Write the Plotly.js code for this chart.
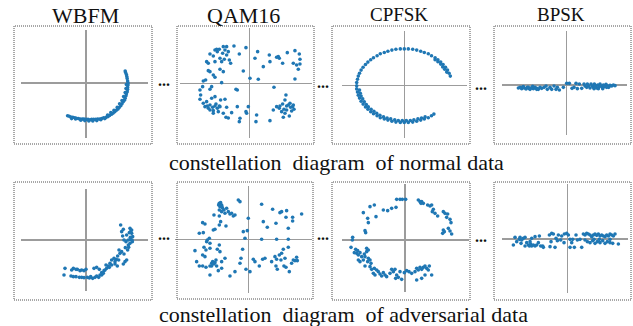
<!DOCTYPE html>
<html><head><meta charset="utf-8">
<script src="https://cdn.plot.ly/plotly-3.0.1.min.js"></script>
<style>html,body{margin:0;padding:0;background:#fff}</style>
</head><body><div id="chart" style="width:633px;height:326px"></div>
<script>
const panelTitles = ['WBFM', 'QAM16', 'CPFSK', 'BPSK'];
const rowCaptions = ['constellation  diagram  of normal data', 'constellation  diagram  of adversarial data'];

const wbfmNormal = [[-0.46,-0.82],[-0.42,-0.83],[-0.38,-0.85],[-0.33,-0.86],[-0.28,-0.87],[-0.24,-0.88],[-0.19,-0.89],[-0.14,-0.90],[-0.09,-0.90],[-0.05,-0.90],[0.00,-0.91],[0.05,-0.91],[0.10,-0.92],[0.14,-0.91],[0.19,-0.91],[0.24,-0.91],[0.29,-0.90],[0.34,-0.90],[0.39,-0.89],[0.44,-0.87],[0.50,-0.86],[0.55,-0.84],[0.59,-0.81],[0.64,-0.78],[0.68,-0.75],[0.72,-0.72],[0.76,-0.68],[0.80,-0.65],[0.83,-0.61],[0.87,-0.57],[0.90,-0.52],[0.93,-0.47],[0.96,-0.43],[0.98,-0.38],[1.00,-0.32],[1.01,-0.27],[1.03,-0.22],[1.04,-0.16],[1.04,-0.11],[1.05,-0.05],[1.05,0.00],[1.04,0.05],[1.03,0.11],[1.02,0.16],[1.01,0.21],[0.99,0.26],[0.98,0.30],
[-0.36,-0.89],[-0.26,-0.90],[-0.13,-0.93],[-0.03,-0.94],[0.07,-0.95],[0.17,-0.95],[0.27,-0.94],[0.37,-0.92],[0.47,-0.89],[0.54,-0.80],[0.62,-0.74],[0.70,-0.68],[0.78,-0.61],[0.84,-0.52],[0.90,-0.44],[0.94,-0.34],[0.98,-0.24],[1.00,-0.14],[1.01,-0.04]];

const qam16Normal = [[-1.18,0.88],[-1.03,1.00],[-0.96,0.95],[-0.90,1.02],[-0.78,1.10],[-0.73,1.00],[-0.63,0.95],[-0.68,0.85],[-0.80,0.90],[-0.88,0.75],[-1.03,0.65],[-0.83,0.65],[-0.75,0.72],[-0.60,0.70],[-0.46,1.12],[-0.30,0.88],[-0.10,1.07],[-0.56,0.60],[-0.88,0.42],[-1.23,0.38],[-1.28,0.65],[-1.18,0.35],[-1.03,0.18],[-1.38,0.07],[-1.31,0.10],[-1.13,-0.10],[-1.18,-0.18],[-1.48,-0.20],[-1.46,-0.35],[-1.48,-0.48],[-1.38,-0.60],[-1.33,-0.70],[-1.26,-0.68],[-1.18,-0.65],[-1.10,-0.72],[-1.03,-0.68],[-0.96,-0.75],[-0.90,-0.68],[-1.18,-0.80],[-1.08,-0.82],[-1.13,-0.45],[-1.03,-0.40],[-0.86,-0.50],[-0.73,-0.48],[-0.93,-0.85],[-1.08,-0.90],[-0.88,-0.70],[-0.68,-0.72],[-0.78,-0.90],[-0.70,-1.02],[-0.63,-1.04],[-0.53,-0.88],[-0.36,-0.70],[-0.28,-1.05],[-0.30,-1.15],[-0.10,-0.85],[-0.03,-0.70],[-0.83,0.02],[-1.08,0.25],[-0.78,0.35],[-0.36,-0.20],[-0.18,0.37],[0.02,0.15],[0.27,0.12],[0.25,0.95],[0.17,0.75],[0.42,0.50],[0.60,0.85],[0.62,0.65],[0.82,0.78],[0.90,0.75],[1.00,0.60],[1.14,0.92],[1.32,0.60],[1.37,0.98],[1.50,0.88],[1.52,0.72],[1.47,0.42],[1.52,0.58],[1.37,0.13],[0.74,-0.12],[1.10,-0.35],[1.07,-0.50],[1.00,-0.62],[0.92,-0.68],[0.90,-0.75],[0.97,-0.85],[1.07,-0.90],[1.02,-1.02],[1.12,-0.80],[1.22,-0.60],[1.30,-0.70],[1.34,-0.78],[1.27,-0.83],[1.20,-0.98],[0.62,-1.12],[0.72,-0.80],[0.82,-0.70],[0.22,-0.95],[0.20,-1.15],[-0.08,-0.90],[-0.40,-0.18],[-1.40,-0.10],[1.17,-0.65],[1.24,-0.72],[1.12,-0.68],[1.04,-0.78],[1.32,-0.65],[-1.23,-0.75],[-1.00,-0.62],[-1.28,-0.55],[-0.98,1.02],[-0.68,1.10],[-1.08,0.82],[-1.23,0.60],[0.87,0.80],[1.42,0.55]];

const cpfskNormal = [[1.15,0.24],[1.12,0.31],[1.08,0.39],[1.03,0.46],[0.97,0.53],[0.91,0.59],[0.84,0.65],[0.77,0.70],[0.68,0.75],[0.60,0.80],[0.50,0.83],[0.41,0.86],[0.31,0.89],[0.21,0.91],[0.10,0.92],[0.00,0.92],[-0.10,0.92],[-0.21,0.91],[-0.31,0.89],[-0.41,0.86],[-0.50,0.83],[-0.60,0.80],[-0.68,0.75],[-0.77,0.70],[-0.84,0.65],[-0.91,0.59],[-0.97,0.53],[-1.03,0.46],[-1.08,0.39],[-1.12,0.31],[-1.15,0.24],[-1.17,0.16],[-1.19,0.08],[-1.19,0.00],[-1.19,-0.08],[-1.17,-0.16],[-1.15,-0.24],[-1.12,-0.31],[-1.08,-0.39],[-1.03,-0.46],[-0.97,-0.53],[-0.91,-0.59],[-0.84,-0.65],[-0.77,-0.70],[-0.68,-0.75],[-0.60,-0.80],[-0.50,-0.83],[-0.41,-0.86],[-0.31,-0.89],[-0.21,-0.91],[-0.10,-0.92],[0.00,-0.92],[0.10,-0.92],[0.21,-0.91],[0.31,-0.89],[0.41,-0.86],[0.50,-0.83],[0.60,-0.80],[0.68,-0.75],[0.74,-0.71],
[-1.12,-0.11],[-1.10,-0.19],[-1.08,-0.26],[-1.04,-0.33],[-1.00,-0.40],[-0.95,-0.47],[-0.90,-0.53],[-0.83,-0.59],[-0.76,-0.64],[-0.69,-0.69],[-0.61,-0.74],[-0.52,-0.78],[-0.43,-0.81],[-0.34,-0.83],[-0.24,-0.85],[-0.15,-0.87],[-0.05,-0.87],[0.05,-0.87],[0.15,-0.87],[0.24,-0.85],[0.34,-0.83],[0.43,-0.81],[0.52,-0.78],
[1.06,0.34],[1.01,0.41],[0.96,0.47],[0.91,0.54],[0.84,0.60],[0.77,0.65]];

const bpskNormal = [[-1.45,-0.09],[-1.40,-0.07],[-1.35,-0.11],[-1.32,-0.06],[-1.27,-0.09],[-1.22,-0.12],[-1.18,-0.07],[-1.14,-0.10],[-1.10,-0.13],[-1.05,-0.08],[-1.00,-0.11],[-0.95,-0.07],[-0.90,-0.10],[-0.85,-0.13],[-0.80,-0.07],[-0.75,-0.10],[-0.68,-0.07],[-0.62,-0.03],[-0.58,-0.13],[-0.50,-0.07],[-0.45,-0.13],[-0.38,-0.03],[-0.32,-0.13],[-0.28,-0.07],[-0.22,-0.15],[-0.10,-0.07],[0.00,0.05],[0.08,0.05],[0.16,-0.10],[0.22,-0.07],[0.28,0.05],[0.32,-0.11],[0.38,0.03],[0.45,-0.10],[0.52,0.03],[0.55,-0.03],[0.60,-0.07],[0.62,0.03],[0.66,-0.03],[0.70,-0.09],[0.73,0.03],[0.77,-0.03],[0.80,-0.07],[0.83,0.03],[0.87,-0.03],[0.90,-0.09],[0.93,0.00],[0.97,-0.05],[1.00,0.03],[1.03,-0.03],[1.07,-0.07],[1.10,0.00],[1.14,-0.05],[1.18,0.02],[1.22,-0.03],[1.26,-0.07],[1.30,-0.01],[1.35,-0.03],[1.40,0.00],[1.45,-0.02],[-1.30,-0.05],[-1.15,-0.07],[-1.02,-0.04],[-0.90,-0.13],[0.82,-0.11],[0.95,-0.11],[1.08,-0.11],[1.20,-0.07]];

const wbfmAdv = [[1.04,0.45],[1.32,0.35],[1.35,0.28],[1.37,0.20],[1.30,0.22],[1.40,0.10],[1.34,0.02],[1.39,-0.05],[1.32,-0.10],[1.27,-0.15],[1.20,-0.05],[1.14,0.00],[1.10,0.12],[1.07,0.25],[1.12,0.32],[1.22,0.15],[1.25,-0.30],[1.18,-0.23],[1.28,-0.22],[0.99,-0.30],[1.02,-0.40],[0.95,-0.48],[0.91,-0.58],[0.87,-0.65],[0.84,-0.55],[0.77,-0.60],[0.72,-0.70],[0.67,-0.78],[0.62,-0.85],[0.70,-0.82],[0.57,-0.90],[0.60,-0.75],[0.54,-0.92],[0.47,-0.98],[0.42,-1.05],[0.38,-1.12],[0.32,-1.08],[0.27,-1.12],[0.20,-1.15],[0.14,-1.10],[0.10,-1.14],[0.04,-1.12],[0.00,-0.88],[-0.06,-0.92],[-0.13,-0.90],[-0.18,-0.92],[-0.26,-0.88],[-0.30,-0.88],[-0.38,-0.85],[-0.43,-0.90],[-0.63,-0.85],[-0.66,-1.05],[-0.45,-1.08],[-0.38,-1.10],[-0.30,-1.10],[-0.20,-1.12],[-0.13,-1.12],[-0.06,-1.13],[0.24,-0.85],[0.32,-0.82],[0.40,-0.88],[0.47,-1.05],[0.52,-1.00],[0.77,-0.75],[0.87,-0.72],[0.94,-0.78],[1.12,-0.72],[1.17,-0.65],[1.22,-0.60],[0.98,-0.60],[1.07,-0.35],[1.14,-0.42],[1.37,0.30],[1.38,0.00],[1.33,0.08],[1.27,0.00]];

const qam16Adv = [[-0.87,1.08],[-0.83,1.10],[-0.80,1.03],[-0.85,0.98],[-0.77,0.93],[-0.73,0.88],[-0.87,0.88],[-0.65,0.93],[-0.60,0.83],[-0.55,0.76],[-0.50,0.78],[-0.45,0.70],[-0.40,0.73],[-0.70,0.78],[-0.80,0.83],[-1.03,0.73],[-0.87,0.70],[-0.83,0.53],[-0.87,0.43],[-0.67,0.40],[-1.05,0.28],[-1.00,0.30],[-1.37,0.50],[-1.30,0.46],[-1.47,0.18],[-1.35,0.20],[-1.23,-0.02],[-1.17,0.03],[-1.15,-0.12],[-1.25,-0.07],[-0.30,1.18],[-0.25,1.13],[0.00,0.63],[-0.03,0.26],[-0.10,0.03],[-0.17,-0.30],[-1.60,-0.34],[-1.33,-0.24],[-1.27,-0.32],[-1.15,-0.27],[-0.93,-0.30],[-0.85,-0.37],[-0.87,-0.17],[-1.37,-0.47],[-1.30,-0.52],[-1.55,-0.67],[-1.47,-0.80],[-1.37,-0.80],[-1.27,-0.84],[-1.15,-0.80],[-1.10,-0.72],[-1.07,-0.67],[-1.03,-0.74],[-1.00,-0.70],[-0.95,-0.80],[-0.80,-0.87],[-0.90,-0.94],[-1.15,-1.07],[-0.80,-0.67],[-0.70,-0.57],[-0.55,-1.10],[-0.40,-0.97],[-0.25,-0.72],[-0.22,-0.57],[-0.07,-0.90],[0.05,-0.97],[0.15,-0.60],[0.20,-0.67],[0.33,-0.80],[0.43,-0.60],[0.50,-0.57],[0.70,-0.67],[0.80,-0.52],[0.85,-0.60],[0.93,-0.47],[1.00,-0.42],[1.05,-0.30],[1.20,-0.24],[0.83,-0.80],[0.87,-0.90],[1.07,-0.80],[1.13,-0.84],[1.23,-0.97],[1.30,-0.72],[1.35,-0.62],[1.40,-0.64],[1.47,-0.64],[1.45,-0.54],[0.40,1.05],[0.73,0.90],[0.95,0.80],[1.00,0.83],[1.15,0.86],[1.13,0.66],[1.33,0.66],[1.33,0.55],[1.60,0.76],[0.45,0.53],[0.57,0.36],[0.83,0.48],[1.20,0.33],[0.40,0.00],[0.85,0.00],[1.20,0.00],[1.10,-0.57],[0.98,-0.62],[-0.15,0.23],[-1.05,-0.72],[-0.97,-0.62],[-1.10,-0.80],[-0.79,0.98],[-0.89,1.03]];

const cpfskAdv = [[-1.25,0.82],[-1.05,1.00],[-0.92,1.05],[-1.12,0.65],[-1.10,0.52],[-1.20,0.28],[-1.18,0.22],[-0.87,0.70],[-0.65,0.90],[-0.52,0.88],[-0.40,0.95],[-0.27,0.98],[-0.25,1.22],[-0.15,1.22],[-0.08,1.22],[0.02,1.22],[0.40,1.20],[0.45,1.15],[0.50,1.15],[0.55,1.10],[0.48,1.10],[0.68,1.05],[0.75,1.02],[0.80,1.05],[0.85,0.92],[0.82,0.85],[0.90,0.80],[0.98,0.72],[1.15,0.85],[1.20,0.80],[1.28,0.78],[1.25,0.68],[1.35,0.62],[1.38,0.52],[1.30,0.35],[1.35,0.27],[1.40,0.18],[1.15,0.30],[1.18,0.25],[1.13,0.20],[-1.57,0.08],[-1.58,0.00],[-1.62,-0.22],[-1.48,-0.28],[-1.42,-0.32],[-1.45,-0.40],[-1.40,-0.45],[-1.35,-0.38],[-1.30,-0.50],[-1.22,-0.42],[-1.15,-0.35],[-1.15,-0.25],[-1.20,-0.50],[-1.10,-0.55],[-1.05,-0.60],[-1.12,-0.65],[-1.35,-0.65],[-1.20,-0.78],[-1.05,-0.80],[-1.00,-0.88],[-0.92,-0.85],[-0.85,-0.90],[-0.95,-1.00],[-0.90,-1.05],[-0.80,-0.95],[-0.75,-1.02],[-0.70,-1.08],[-0.65,-0.98],[-0.60,-1.05],[-0.55,-1.10],[-0.45,-1.00],[-0.40,-0.88],[-0.35,-0.95],[-0.30,-0.88],[-0.25,-1.05],[-0.28,-1.15],[-0.20,-1.12],[-0.10,-1.18],[-0.15,-0.95],[-0.02,-0.98],[0.05,-0.92],[0.12,-0.95],[0.20,-1.00],[0.30,-0.95],[0.35,-0.85],[0.40,-0.90],[0.45,-0.82],[0.50,-0.88],[0.55,-0.82],[0.60,-0.78],[0.65,-0.85],[0.70,-0.90],[0.73,-0.78],[0.80,-1.05],[0.60,-1.05],[0.50,-1.15],[0.35,-1.20],[-1.40,-0.60],[-1.25,-0.60],[-1.52,-0.38],[-1.10,-0.30],[-1.02,-0.70]];

const bpskAdv = [[-1.58,0.05],[-1.53,-0.08],[-1.45,-0.01],[-1.43,0.05],[-1.38,-0.03],[-1.33,0.02],[-1.28,0.05],[-1.23,-0.11],[-1.18,-0.18],[-1.15,-0.21],[-1.11,-0.15],[-1.08,-0.21],[-1.03,-0.18],[-0.98,-0.21],[-0.93,-0.18],[-0.88,-0.11],[-0.85,0.09],[-0.81,-0.21],[-0.75,-0.21],[-0.73,-0.25],[-1.28,-0.21],[-1.63,-0.18],[-1.40,-0.13],[-1.13,-0.08],[-1.08,0.02],[-0.98,0.07],[-0.55,0.12],[-0.48,0.17],[-0.43,0.15],[-0.50,-0.08],[-0.53,-0.23],[-0.38,-0.25],[-0.35,0.02],[-0.31,-0.05],[-0.21,-0.03],[-0.18,0.09],[-0.10,0.15],[-0.03,0.17],[0.02,0.12],[0.07,-0.01],[0.15,-0.01],[0.12,-0.11],[0.07,-0.25],[0.20,-0.25],[0.25,0.12],[0.29,-0.03],[0.37,-0.01],[0.42,-0.25],[0.47,0.15],[0.52,0.12],[0.57,0.17],[0.62,0.15],[0.67,0.12],[0.72,0.07],[0.77,0.12],[0.82,0.15],[0.87,0.11],[0.92,0.15],[0.97,0.09],[1.02,0.12],[1.07,0.09],[1.12,0.07],[1.17,0.12],[1.22,0.09],[1.27,0.15],[1.32,0.12],[1.37,0.09],[1.42,0.15],[0.52,-0.03],[0.59,-0.08],[0.67,-0.11],[0.75,-0.05],[0.82,-0.13],[0.89,-0.08],[0.97,-0.11],[1.05,-0.05],[1.12,-0.13],[1.19,-0.08],[1.27,-0.11],[1.35,-0.13],[1.52,-0.15],[0.79,-0.01],[0.95,-0.01],[1.27,-0.01],[-0.28,0.12],[-0.11,-0.11]];

const series = [wbfmNormal, qam16Normal, cpfskNormal, bpskNormal, wbfmAdv, qam16Adv, cpfskAdv, bpskAdv];

// ---- layout geometry (pixels) ----
const W = 633, H = 326;
const geom = [
  {h:[21,148], v:[30,138], c:[86,83], s:40, box:[14,26,152,144]},
  {h:[180,312], v:[28,138], c:[249.3,83.3], s:33.33, box:[177,26,314,144]},
  {h:[342,467], v:[31,138], c:[404.3,85.7], s:40, box:[332,26,470,144]},
  {h:[502,627], v:[31,135], c:[566.7,85], s:33.33, box:[494,26,631,144]},
  {h:[21,148], v:[189,291], c:[86,240], s:33.33, box:[14,182,152,300]},
  {h:[175,312], v:[186,293], c:[248.3,239.3], s:33.33, box:[177,182,313,299]},
  {h:[342,469], v:[184,292], c:[405,240], s:33.33, box:[332,182,470,300]},
  {h:[502,628], v:[184,293], c:[567.7,239], s:33.33, box:[494,182,631,300]}
];
const titlePos = [{x:85, y:15.6, size:22}, {x:243, y:15.6, size:22}, {x:399, y:14.6, size:19}, {x:560.5, y:14.6, size:19}];
const captionPos = [{x:336, y:162.6}, {x:343, y:314.6}];
const dotsPos = [[164,80],[323,83],[481,84],[164,234],[323,235],[481,236]];

const px = x => x / W;
const py = y => 1 - y / H;
const serif = 'Liberation Serif, Times New Roman, serif';

const data = [];
const layout = {
  width: W, height: H,
  margin: {l:0, r:0, t:0, b:0},
  paper_bgcolor: '#fff', plot_bgcolor: 'rgba(0,0,0,0)',
  showlegend: false,
  font: {family: serif},
  shapes: [], annotations: []
};

series.forEach((pts, i) => {
  const g = geom[i];
  const n = i === 0 ? '' : String(i + 1);
  data.push({
    type: 'scatter', mode: 'markers',
    x: pts.map(p => p[0]), y: pts.map(p => p[1]),
    xaxis: 'x' + n, yaxis: 'y' + n,
    cliponaxis: false,
    marker: {size: 3.6, color: '#1f77b4', line: {width: 0}},
    hoverinfo: 'skip'
  });
  const axBase = {showgrid:false, showticklabels:false, ticks:'', showline:false,
                  zeroline:true, zerolinecolor:'#9c9c9c', zerolinewidth:1.2, fixedrange:true};
  layout['xaxis' + n] = Object.assign({}, axBase, {
    domain: [px(g.h[0]), px(g.h[1])],
    range: [(g.h[0] - g.c[0]) / g.s, (g.h[1] - g.c[0]) / g.s],
    anchor: 'y' + n
  });
  layout['yaxis' + n] = Object.assign({}, axBase, {
    domain: [py(g.v[1]), py(g.v[0])],
    range: [(g.c[1] - g.v[1]) / g.s, (g.c[1] - g.v[0]) / g.s],
    anchor: 'x' + n
  });
  layout.shapes.push({
    type:'rect', xref:'paper', yref:'paper',
    x0: px(g.box[0]), x1: px(g.box[2]), y0: py(g.box[3]), y1: py(g.box[1]),
    line: {color:'#505050', width:1, dash:'1px,1px'}, layer:'above'
  });
});

panelTitles.forEach((t, i) => {
  layout.annotations.push({
    text: t, xref:'paper', yref:'paper', x: px(titlePos[i].x), y: py(titlePos[i].y),
    xanchor:'center', yanchor:'middle', showarrow:false,
    font: {family: serif, size: titlePos[i].size, color:'#111'}
  });
});
rowCaptions.forEach((t, i) => {
  layout.annotations.push({
    text: t, xref:'paper', yref:'paper', x: px(captionPos[i].x), y: py(captionPos[i].y),
    xanchor:'center', yanchor:'middle', showarrow:false,
    font: {family: serif, size: 22, color:'#111'}
  });
});
dotsPos.forEach(d => {
  layout.annotations.push({
    text: '<b>...</b>', xref:'paper', yref:'paper', x: px(d[0]), y: py(d[1]),
    xanchor:'center', yanchor:'middle', showarrow:false,
    font: {family: serif, size: 16, color:'#111'}
  });
});

Plotly.newPlot('chart', data, layout, {staticPlot:true, displayModeBar:false});
</script>
</body></html>
